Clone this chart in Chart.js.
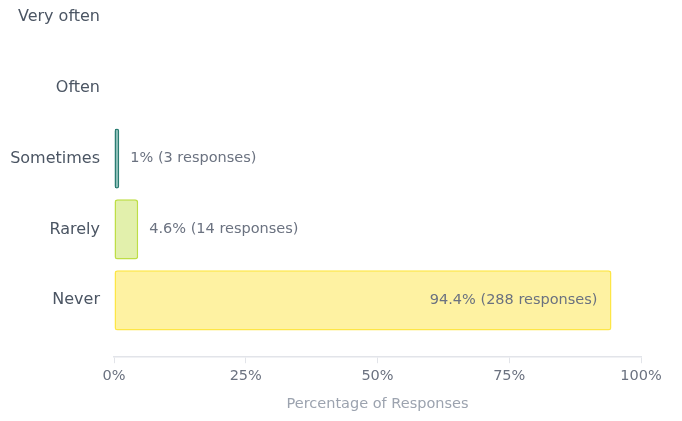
<!DOCTYPE html>
<html>
<head>
<meta charset="utf-8">
<script src="https://cdn.jsdelivr.net/npm/chart.js@4.4.0/dist/chart.umd.min.js"></script>
<style>
  html, body { margin: 0; padding: 0; background: #fff; overflow: hidden; }
  .chart-box { position: absolute; left: 0; top: -42px; width: 682px; height: 462px; }
</style>
</head>
<body>
<div class="chart-box"><canvas id="frequencyChart"></canvas></div>
<script>
const categories = ["Very often", "Often", "Sometimes", "Rarely", "Never"];
const percentages = [0, 0, 1, 4.6, 94.4];
const responseCounts = [0, 0, 3, 14, 288];
const xTicks = [0, 25, 50, 75, 100];

const fillColors = [
  "rgba(20, 110, 100, 0.5)",
  "rgba(20, 110, 100, 0.5)",
  "rgba(30, 130, 115, 0.5)",
  "rgba(190, 222, 70, 0.45)",
  "rgba(253, 230, 70, 0.5)",
];
const borderColors = ["#146e64", "#146e64", "#2a7d72", "#bede46", "#fde646"];

Chart.defaults.font.family = "'DejaVu Sans', sans-serif";

// value + response count next to each bar (inside when it doesn't fit)
const barLabels = {
  id: "barLabels",
  afterDatasetsDraw(chart) {
    const { ctx, chartArea } = chart;
    const meta = chart.getDatasetMeta(0);
    ctx.save();
    ctx.font = "14.5px 'DejaVu Sans', sans-serif";
    ctx.fillStyle = "#6b7280";
    ctx.textBaseline = "middle";
    meta.data.forEach((bar, i) => {
      const value = percentages[i];
      if (!value) return;
      const text = `${value}% (${responseCounts[i]} responses)`;
      const width = ctx.measureText(text).width;
      if (bar.x + 11 + width > chartArea.right) {
        ctx.textAlign = "right";
        ctx.fillText(text, bar.x - 14, bar.y);
      } else {
        ctx.textAlign = "left";
        ctx.fillText(text, bar.x + 11, bar.y);
      }
    });
    ctx.restore();
  },
};

new Chart(document.getElementById("frequencyChart"), {
  type: "bar",
  data: {
    labels: categories,
    datasets: [
      {
        data: percentages,
        xAxisID: "x",
        backgroundColor: fillColors,
        borderColor: borderColors,
        borderWidth: 1.5,
        borderRadius: 3,
        borderSkipped: false,
        categoryPercentage: 0.85,
        barPercentage: 1,
      },
    ],
  },
  options: {
    indexAxis: "y",
    responsive: true,
    maintainAspectRatio: false,
    animation: false,
    layout: { padding: { left: 11, right: 41, top: 0, bottom: 3 } },
    plugins: {
      legend: { display: false },
      tooltip: { enabled: false },
    },
    scales: {
      x: {
        type: "linear",
        position: "bottom",
        weight: 1,
        min: 0,
        max: 100,
        afterBuildTicks: (scale) => {
          scale.ticks = xTicks.map((v) => ({ value: v }));
        },
        ticks: {
          color: "#6b7280",
          font: { size: 14.5 },
          padding: 4,
          callback: (v) => v + "%",
        },
        grid: {
          drawOnChartArea: false,
          tickLength: 6,
          color: "#e2e4e9",
        },
        border: { color: "#e2e4e9", width: 1.5 },
        title: {
          display: true,
          text: "Percentage of Responses",
          color: "#9ca3af",
          font: { size: 14.5 },
          padding: { top: 7, bottom: 4 },
        },
      },
      // empty strip between the bars and the x axis
      gap: {
        type: "linear",
        position: "bottom",
        weight: 0,
        grid: { display: false },
        border: { display: false },
        ticks: { display: false },
        afterFit: (scale) => {
          scale.height = 21.5;
        },
      },
      y: {
        grid: { display: false, drawTicks: false },
        border: { display: false },
        ticks: {
          color: "#4b5563",
          font: { size: 16 },
          padding: 14,
        },
        afterFit: (scale) => {
          scale.width = 103;
        },
      },
    },
  },
  plugins: [barLabels],
});
</script>
</body>
</html>
